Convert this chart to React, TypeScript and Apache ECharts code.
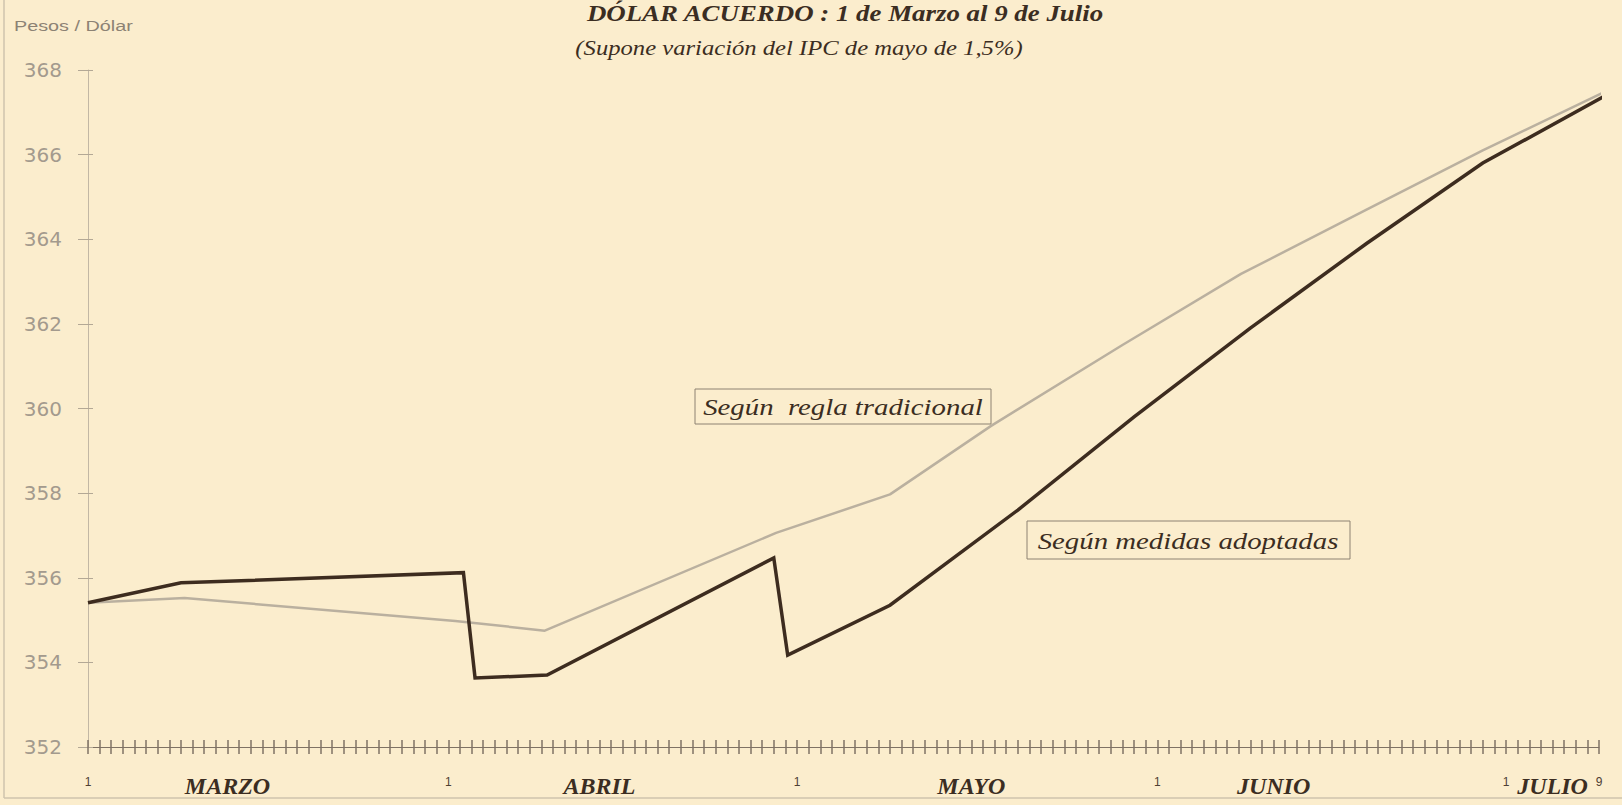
import React, { useEffect, useRef } from "react";
import * as echarts from "echarts";

// ---- data ----
// day index: 0 = 1 de Marzo ... 130 = 9 de Julio
const adoptedDays = [0, 8, 32.3, 33.3, 39.5, 59, 60.2, 69, 80, 90, 100, 110, 120, 130.6];
const adoptedValues = [355.41, 355.88, 356.12, 353.63, 353.7, 356.47, 354.17, 355.35, 357.6, 359.8, 361.9, 363.9, 365.8, 367.4];

const traditionalDays = [0, 8.3, 31.6, 39.3, 59.2, 69, 77.7, 89, 99.2, 110, 120, 130.6];
const traditionalValues = [355.41, 355.52, 354.98, 354.75, 357.06, 357.97, 359.59, 361.5, 363.18, 364.7, 366.1, 367.5];

const monthStartDays = [0, 31, 61, 92, 122];
const monthLabelDays = [12, 44, 76, 102, 126];
const monthNames = ["MARZO", "ABRIL", "MAYO", "JUNIO", "JULIO"];
const lastDay = 130;
const lastDayLabel = "9";

const yMin = 352;
const yMax = 368;
const yStep = 2;

const titleText = "DÓLAR ACUERDO : 1 de Marzo al 9 de Julio";
const subtitleText = "(Supone variación del IPC de mayo de 1,5%)";
const unitText = "Pesos / Dólar";
const traditionalLabel = "Según  regla tradicional";
const adoptedLabel = "Según medidas adoptadas";

const BG = "#fbedcd";
const SERIF = "'Liberation Serif', 'DejaVu Serif', serif";
const SANS = "'Liberation Sans', 'DejaVu Sans', sans-serif";
const WIDE_SANS = "'DejaVu Sans', 'Liberation Sans', sans-serif";

export default function App() {
  const ref = useRef<HTMLDivElement>(null);

  useEffect(() => {
    document.body.style.margin = "0";
    document.body.style.background = BG;
    const chart = echarts.init(ref.current!, null, { renderer: "svg" });

    const adopted = adoptedDays.map((d, i) => [d, adoptedValues[i]]);
    const traditional = traditionalDays.map((d, i) => [d, traditionalValues[i]]);

    const xFormatter = (v: number) => {
      const r = Math.round(v);
      if (monthStartDays.includes(r)) return "{d|1}";
      if (r === lastDay) return "{d|" + lastDayLabel + "}";
      const idx = monthLabelDays.indexOf(r);
      if (idx >= 0) return "{m|" + monthNames[idx] + "}";
      return "";
    };

    const axisColor = "#7f7264";

    chart.setOption({
      animation: false,
      backgroundColor: BG,
      grid: { left: 88, right: 23, top: 70, bottom: 58, containLabel: false },
      xAxis: [
        {
          type: "value",
          min: 0,
          max: lastDay,
          interval: 1,
          position: "bottom",
          axisLine: { show: true, lineStyle: { color: axisColor, width: 1 } },
          axisTick: { show: true, length: 7, lineStyle: { color: axisColor, width: 1.5 } },
          splitLine: { show: false },
          axisLabel: {
            show: true,
            margin: 27,
            formatter: xFormatter,
            rich: {
              d: { fontSize: 12, color: "#4e4033", fontFamily: SANS, lineHeight: 24, padding: [0, 0, 8, 0] },
              m: {
                fontSize: 24,
                fontStyle: "italic",
                fontWeight: "bold",
                color: "#3b2d22",
                fontFamily: SERIF,
                lineHeight: 24,
              },
            },
          },
        },
        {
          type: "value",
          min: 0,
          max: lastDay,
          interval: 1,
          position: "bottom",
          axisLine: { show: false },
          axisTick: { show: true, inside: true, length: 7, lineStyle: { color: axisColor, width: 1.5 } },
          splitLine: { show: false },
          axisLabel: { show: false },
        },
      ],
      yAxis: [
        {
          type: "value",
          min: yMin,
          max: yMax,
          interval: yStep,
          position: "left",
          axisLine: { show: true, lineStyle: { color: "#c2b7a4", width: 1 } },
          axisTick: { show: true, length: 10, lineStyle: { color: "#b3a895", width: 1 } },
          splitLine: { show: false },
          axisLabel: {
            margin: 26,
            fontSize: 20,
            color: "#a39a8d",
            fontFamily: WIDE_SANS,
          },
        },
        {
          type: "value",
          min: yMin,
          max: yMax,
          interval: yStep,
          position: "left",
          axisLine: { show: false },
          axisTick: { show: true, inside: true, length: 5, lineStyle: { color: "#b3a895", width: 1 } },
          splitLine: { show: false },
          axisLabel: { show: false },
        },
      ],
      series: [
        {
          name: traditionalLabel,
          type: "line",
          xAxisIndex: 0,
          yAxisIndex: 0,
          data: traditional,
          showSymbol: false,
          clip: false,
          lineStyle: { color: "#bab09f", width: 2.5 },
          z: 2,
        },
        {
          name: adoptedLabel,
          type: "line",
          xAxisIndex: 0,
          yAxisIndex: 0,
          data: adopted,
          showSymbol: false,
          clip: false,
          lineStyle: { color: "#3d2c1f", width: 3.5, join: "miter" },
          z: 3,
        },
      ],
      graphic: [
        {
          type: "text",
          x: 14,
          y: 26,
          scaleX: 1.32,
          style: { text: unitText, fontSize: 15, fill: "#8c8274", fontFamily: SANS, verticalAlign: "middle" },
        },
        {
          type: "text",
          x: 845,
          y: 13,
          scaleX: 1.12,
          style: {
            text: titleText,
            fontSize: 24,
            fontStyle: "italic",
            fontWeight: "bold",
            fill: "#3b2d22",
            fontFamily: SERIF,
            align: "center",
            verticalAlign: "middle",
          },
        },
        {
          type: "text",
          x: 799,
          y: 47,
          scaleX: 1.12,
          style: {
            text: subtitleText,
            fontSize: 22,
            fontStyle: "italic",
            fill: "#3b2d22",
            fontFamily: SERIF,
            align: "center",
            verticalAlign: "middle",
          },
        },
        {
          type: "line",
          shape: { x1: 4, y1: 0, x2: 4, y2: 798 },
          style: { stroke: "#cfc3ad", lineWidth: 1.5 },
        },
        {
          type: "line",
          shape: { x1: 4, y1: 798, x2: 1622, y2: 798 },
          style: { stroke: "#cfc3ad", lineWidth: 1.5 },
        },
        {
          type: "rect",
          shape: { x: 695, y: 389, width: 296, height: 35 },
          style: { fill: BG, stroke: "#8d8272", lineWidth: 1 },
          z: 10,
        },
        {
          type: "text",
          x: 843,
          y: 407,
          z: 11,
          scaleX: 1.2,
          style: {
            text: traditionalLabel,
            fontSize: 24,
            fontStyle: "italic",
            fill: "#3b2d22",
            fontFamily: SERIF,
            align: "center",
            verticalAlign: "middle",
          },
        },
        {
          type: "rect",
          shape: { x: 1027, y: 521, width: 323, height: 38 },
          style: { fill: BG, stroke: "#8d8272", lineWidth: 1 },
          z: 10,
        },
        {
          type: "text",
          x: 1188,
          y: 541,
          z: 11,
          scaleX: 1.2,
          style: {
            text: adoptedLabel,
            fontSize: 24,
            fontStyle: "italic",
            fill: "#3b2d22",
            fontFamily: SERIF,
            align: "center",
            verticalAlign: "middle",
          },
        },
      ],
    });

    return () => chart.dispose();
  }, []);

  return <div ref={ref} style={{ width: 1622, height: 805 }} />;
}
